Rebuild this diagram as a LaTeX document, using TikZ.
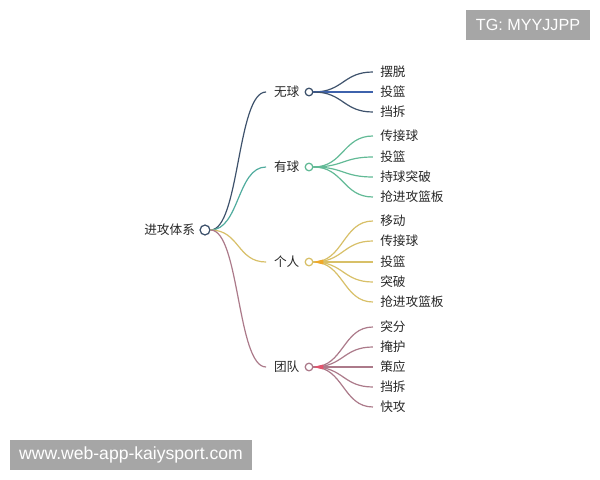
\documentclass[tikz,border=0pt]{standalone}
\usepackage{fontspec}
\setmainfont{Noto Sans CJK SC}
\newfontfamily\wmfont{Liberation Sans}
\usetikzlibrary{positioning, calc}
\definecolor{txtgray}{RGB}{40,40,40}
\definecolor{wqcol}{RGB}{62,82,108}
\definecolor{wqmid}{RGB}{62,98,172}
\definecolor{yqcol}{RGB}{98,186,150}
\definecolor{yqroot}{RGB}{80,172,158}
\definecolor{grcol}{RGB}{216,192,104}
\definecolor{grhot}{RGB}{240,168,40}
\definecolor{tdcol}{RGB}{172,122,138}
\definecolor{tdhot}{RGB}{226,82,108}
\definecolor{wmgray}{RGB}{166,166,166}
\tikzset{
	lbl/.style = {font=\fontsize{9}{10}\selectfont, text=txtgray, inner sep=0pt},
	hub/.style = {circle, draw=#1, fill=white, line width=0.9pt, minimum size=5.4pt, inner sep=0pt},
	link/.style = {draw=#1, line width=0.85pt},
	wmark/.style = {fill=wmgray, text=white, inner sep=0pt, minimum height=0.75cm}
}

\begin{document}
\begin{tikzpicture}[x=0.025cm, y=-0.025cm]
	
	\useasboundingbox (0,0) rectangle (600,480);
	\fill[white] (0,0) rectangle (600,480);
	
	% root
	\node [hub=wqcol, minimum size=7pt] (sys) at (205,230) {};
	\node [lbl, left=3pt of sys] (syst) {进攻体系};
	
	% branches
	\node [hub=wqcol] (wq) at (309,92) {};
	\node [lbl, left=3.5pt of wq] (wqt) {无球};
	\node [hub=yqcol] (yq) at (309,167) {};
	\node [lbl, left=3.5pt of yq] (yqt) {有球};
	\node [hub=grcol] (gr) at (309,262) {};
	\node [lbl, left=3.5pt of gr] (grt) {个人};
	\node [hub=tdcol] (td) at (309,367) {};
	\node [lbl, left=3.5pt of td] (tdt) {团队};
	
	\draw [link=wqcol] (sys.east) .. controls +(29,0) and +(-29,0) .. ([xshift=-5.5pt]wqt.west);
	\draw [link=yqroot] (sys.east) .. controls +(29,0) and +(-29,0) .. ([xshift=-5.5pt]yqt.west);
	\draw [link=grcol] (sys.east) .. controls +(29,0) and +(-29,0) .. ([xshift=-5.5pt]grt.west);
	\draw [link=tdcol] (sys.east) .. controls +(29,0) and +(-29,0) .. ([xshift=-5.5pt]tdt.west);
	
	% leaves of wq
	\node [lbl, anchor=west] (wq1) at (380,72) {摆脱};
	\node [lbl, anchor=west] (wq2) at (380,92) {投篮};
	\node [lbl, anchor=west] (wq3) at (380,112) {挡拆};
	\draw [link=wqcol] (wq.east) .. controls +(30,0) and +(-30,0) .. ([xshift=-5pt]wq1.west);
	\draw [link=wqmid] (wq.east) .. controls +(30,0) and +(-30,0) .. ([xshift=-5pt]wq2.west);
	\draw [link=wqcol] (wq.east) .. controls +(30,0) and +(-30,0) .. ([xshift=-5pt]wq3.west);
	
	% leaves of yq
	\node [lbl, anchor=west] (yq1) at (380,136) {传接球};
	\node [lbl, anchor=west] (yq2) at (380,157) {投篮};
	\node [lbl, anchor=west] (yq3) at (380,177) {持球突破};
	\node [lbl, anchor=west] (yq4) at (380,197) {抢进攻篮板};
	\draw [link=yqcol] (yq.east) .. controls +(30,0) and +(-30,0) .. ([xshift=-5pt]yq1.west);
	\draw [link=yqcol] (yq.east) .. controls +(30,0) and +(-30,0) .. ([xshift=-5pt]yq2.west);
	\draw [link=yqcol] (yq.east) .. controls +(30,0) and +(-30,0) .. ([xshift=-5pt]yq3.west);
	\draw [link=yqcol] (yq.east) .. controls +(30,0) and +(-30,0) .. ([xshift=-5pt]yq4.west);
	
	% leaves of gr
	\node [lbl, anchor=west] (gr1) at (380,221) {移动};
	\node [lbl, anchor=west] (gr2) at (380,241) {传接球};
	\node [lbl, anchor=west] (gr3) at (380,262) {投篮};
	\node [lbl, anchor=west] (gr4) at (380,282) {突破};
	\node [lbl, anchor=west] (gr5) at (380,302) {抢进攻篮板};
	\draw [link=grcol] (gr.east) .. controls +(30,0) and +(-30,0) .. ([xshift=-5pt]gr1.west);
	\draw [link=grcol] (gr.east) .. controls +(30,0) and +(-30,0) .. ([xshift=-5pt]gr2.west);
	\draw [link=grcol] (gr.east) .. controls +(30,0) and +(-30,0) .. ([xshift=-5pt]gr3.west);
	\draw [link=grcol] (gr.east) .. controls +(30,0) and +(-30,0) .. ([xshift=-5pt]gr4.west);
	\draw [link=grcol] (gr.east) .. controls +(30,0) and +(-30,0) .. ([xshift=-5pt]gr5.west);
	
	% leaves of td
	\node [lbl, anchor=west] (td1) at (380,327) {突分};
	\node [lbl, anchor=west] (td2) at (380,347) {掩护};
	\node [lbl, anchor=west] (td3) at (380,367) {策应};
	\node [lbl, anchor=west] (td4) at (380,387) {挡拆};
	\node [lbl, anchor=west] (td5) at (380,407) {快攻};
	\draw [link=tdcol] (td.east) .. controls +(30,0) and +(-30,0) .. ([xshift=-5pt]td1.west);
	\draw [link=tdcol] (td.east) .. controls +(30,0) and +(-30,0) .. ([xshift=-5pt]td2.west);
	\draw [link=tdcol] (td.east) .. controls +(30,0) and +(-30,0) .. ([xshift=-5pt]td3.west);
	\draw [link=tdcol] (td.east) .. controls +(30,0) and +(-30,0) .. ([xshift=-5pt]td4.west);
	\draw [link=tdcol] (td.east) .. controls +(30,0) and +(-30,0) .. ([xshift=-5pt]td5.west);
	
	% hot spots next to the hubs
	\fill [grhot] (gr.east) -- ++(10,-2.5) -- ++(0,5) -- cycle;
	\fill [tdhot] (td.east) -- ++(10,-2.5) -- ++(0,5) -- cycle;
	
	% watermarks
	\node [wmark, minimum width=3.1cm, font=\wmfont\fontsize{11.5}{12}\selectfont] (tg) at (528,25) {TG: MYYJJPP};
	\node [wmark, minimum width=6.05cm, font=\wmfont\fontsize{12.5}{13}\selectfont] (site) at (131,455) {www.web-app-kaiysport.com};
	
\end{tikzpicture}
\end{document}
